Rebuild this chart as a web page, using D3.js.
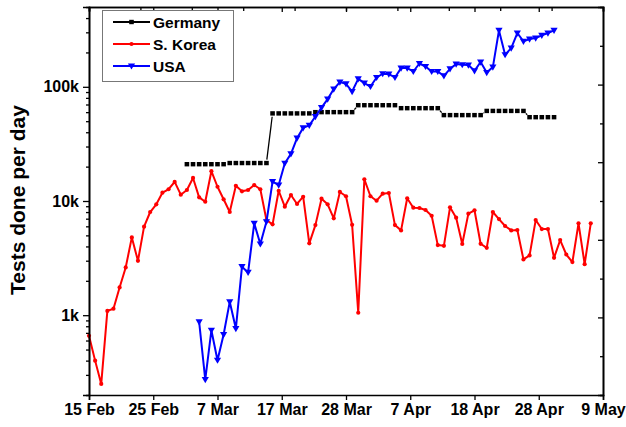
<!DOCTYPE html>
<html>
<head>
<meta charset="utf-8">
<script src="https://cdnjs.cloudflare.com/ajax/libs/d3/7.8.5/d3.min.js"></script>
<style>
  body { margin: 0; background: #fff; }
  svg text { font-family: "Liberation Sans", Arial, sans-serif; font-weight: bold; fill: #000; }
</style>
</head>
<body>
<svg width="626" height="427"></svg>
<script>
// day index 0 = 15 Feb 2020
var xTickValues = [0, 10.5, 21, 31.5, 42, 52.5, 63, 73.5, 84];
var xTickLabels = ["15 Feb", "25 Feb", "7 Mar", "17 Mar", "28 Mar", "7 Apr", "18 Apr", "28 Apr", "9 May"];
var yTickValues = [1000, 10000, 100000];
var yTickLabels = ["1k", "10k", "100k"];
var yMinorValues = [300, 400, 500, 600, 700, 800, 900,
                    2000, 3000, 4000, 5000, 6000, 7000, 8000, 9000,
                    20000, 30000, 40000, 50000, 60000, 70000, 80000, 90000,
                    200000, 300000, 400000];

// S. Korea, days 0..82
var koreaStart = 0;
var koreaValues = [660, 400, 250, 1090, 1140, 1750, 2620, 4800, 2990, 5960,
  8010, 9360, 11830, 12670, 14690, 11360, 12480, 15910, 10760, 9860,
  18240, 13330, 10350, 8010, 13600, 12160, 12480, 13800, 12670, 6810,
  6250, 12300, 8910, 11290, 9420, 10900, 4260, 6150, 10470, 9350,
  7050, 12000, 11000, 6190, 1050, 15500, 11000, 10060, 11600, 11750,
  6150, 5530, 10560, 8740, 8680, 8340, 7430, 4110, 4050, 8810,
  7140, 4200, 7750, 8290, 4220, 3890, 8010, 6950, 6040, 5530,
  5570, 3080, 3340, 6810, 5680, 5680, 3180, 4550, 3400, 2920,
  6370, 2800, 6370];

// USA, days 18..76
var usaStart = 18;
var usaValues = [874, 273, 738, 403, 677, 1309, 764, 2660, 2370, 6370,
  4200, 6580, 14760, 13800, 21400, 25850, 35500, 43700, 46000, 54900,
  65700, 78000, 95500, 110000, 106200, 90900, 117500, 107700, 100600, 120700,
  130100, 129200, 120700, 145900, 145900, 136200, 160000, 150600, 136200, 136200,
  124800, 143800, 158100, 156000, 155000, 138100, 164800, 133300, 148800, 311900,
  190800, 218300, 295800, 249700, 261800, 267300, 281800, 295800, 311900];

// Germany, days 16..76 (weekly figures reported per day)
var germanyStart = 16;
var germanyValues = [21000, 21000, 21000, 21000, 21000, 21000, 21000,
  21500, 21500, 21500, 21500, 21500, 21500, 21500,
  58500, 58500, 58500, 58500, 58500, 58500, 58500,
  60000, 60000, 60000, 60000, 60000, 60000, 60000,
  69000, 69000, 69000, 69000, 69000, 69000, 69000,
  65000, 65000, 65000, 65000, 65000, 65000, 65000,
  56500, 56500, 56500, 56500, 56500, 56500, 56500,
  61500, 61500, 61500, 61500, 61500, 61500, 61500,
  54200, 54200, 54200, 54200, 54200];

var svg = d3.select("svg"),
    frame = {left: 89, right: 603, top: 7, bottom: 395};

var x = d3.scaleLinear().domain([0, 84]).range([frame.left, frame.right]);
var y = d3.scaleLog().domain([200, 500000]).range([frame.bottom, frame.top]);

function toPoints(start, values) {
    return values.map(function(v, i) { return {d: start + i, v: v}; });
}

// gap = space left free around each symbol (line stops short of the marker)
var series = [
    {name: "Germany", color: "#000", width: 1.3, gap: 3.4, data: toPoints(germanyStart, germanyValues), marker: "square"},
    {name: "S. Korea", color: "#ff0000", width: 2, gap: 0, data: toPoints(koreaStart, koreaValues), marker: "dot"},
    {name: "USA", color: "#0000ff", width: 2, gap: 0, data: toPoints(usaStart, usaValues), marker: "tri"}
];

var line = d3.line()
    .x(function(p) { return x(p.d); })
    .y(function(p) { return y(p.v); });

function drawMarker(sel, kind, color) {
    if (kind === "square") {
        sel.append("rect").attr("x", -2.3).attr("y", -2.2).attr("width", 4.6).attr("height", 4.4).attr("fill", color);
    } else if (kind === "dot") {
        sel.append("circle").attr("r", 2.1).attr("fill", color);
    } else {
        sel.append("path").attr("d", "M-3.6,-2.6L3.6,-2.6L0,3.6Z").attr("fill", color);
    }
}

// segments between neighbouring points, cut back by the gap at both ends
function gapSegments(data, gap) {
    var segs = [];
    for (var i = 1; i < data.length; i++) {
        var x0 = x(data[i - 1].d), y0 = y(data[i - 1].v),
            x1 = x(data[i].d), y1 = y(data[i].v),
            len = Math.hypot(x1 - x0, y1 - y0);
        if (len <= 2 * gap + 0.5) continue;
        var ux = (x1 - x0) / len, uy = (y1 - y0) / len;
        segs.push([x0 + ux * gap, y0 + uy * gap, x1 - ux * gap, y1 - uy * gap]);
    }
    return segs;
}

/* --------- series --------- */
var plot = svg.append("g");
series.forEach(function(s) {
    if (s.gap > 0) {
        plot.append("g").selectAll("line")
            .data(gapSegments(s.data, s.gap))
            .enter().append("line")
            .attr("x1", function(t) { return t[0]; })
            .attr("y1", function(t) { return t[1]; })
            .attr("x2", function(t) { return t[2]; })
            .attr("y2", function(t) { return t[3]; })
            .attr("stroke", s.color)
            .attr("stroke-width", s.width);
    } else {
        plot.append("path")
            .datum(s.data)
            .attr("fill", "none")
            .attr("stroke", s.color)
            .attr("stroke-width", s.width)
            .attr("stroke-linejoin", "round")
            .attr("d", line);
    }
    plot.append("g").selectAll("g")
        .data(s.data)
        .enter().append("g")
        .attr("transform", function(p) { return "translate(" + x(p.d) + "," + y(p.v) + ")"; })
        .each(function() { drawMarker(d3.select(this), s.marker, s.color); });
});

/* --------- axes --------- */
function styleAxis(g) {
    g.select(".domain").attr("stroke", "#000").attr("stroke-width", 1.6);
    g.selectAll(".tick line").attr("stroke", "#000").attr("stroke-width", 1.3);
    g.selectAll(".tick text").attr("font-size", 16).attr("font-family", null);
}

svg.append("g")
    .attr("transform", "translate(0," + frame.bottom + ")")
    .call(d3.axisBottom(x).tickValues(xTickValues).tickSize(5).tickPadding(4)
        .tickFormat(function(d, i) { return xTickLabels[i]; }))
    .call(styleAxis);

svg.append("g")
    .attr("transform", "translate(" + frame.left + ",0)")
    .call(d3.axisLeft(y).tickValues(yMinorValues).tickSize(3).tickFormat(""))
    .call(styleAxis);

svg.append("g")
    .attr("transform", "translate(" + frame.left + ",0)")
    .call(d3.axisLeft(y).tickValues(yTickValues).tickSize(6).tickPadding(4)
        .tickFormat(function(d, i) { return yTickLabels[i]; }))
    .call(styleAxis);

// top and right: mirror frame with inward ticks
var xTop = d3.scaleLinear().domain([0, 10]).range([frame.left, frame.right]);
svg.append("g")
    .attr("transform", "translate(0," + frame.top + ")")
    .call(d3.axisTop(xTop).tickValues(d3.range(1, 10)).tickSize(-4).tickFormat(""))
    .call(styleAxis);
svg.append("g")
    .attr("transform", "translate(0," + frame.top + ")")
    .call(d3.axisTop(x).tickValues(xTickValues.slice(1, -1)).tickSize(-5).tickFormat(""))
    .call(styleAxis);

var yRight = d3.scaleLinear().domain([0, 10]).range([frame.bottom, frame.top]);
svg.append("g")
    .attr("transform", "translate(" + frame.right + ",0)")
    .call(d3.axisRight(yRight).tickValues([2, 4, 6, 8]).tickSize(-5).tickFormat(""))
    .call(styleAxis);
svg.append("g")
    .attr("transform", "translate(" + frame.right + ",0)")
    .call(d3.axisRight(yRight).tickValues([1, 3, 5, 7, 9]).tickSize(-3).tickFormat(""))
    .call(styleAxis);

/* --------- y label --------- */
svg.append("text")
    .attr("transform", "translate(25,200) rotate(-90)")
    .attr("text-anchor", "middle")
    .attr("font-size", 21)
    .text("Tests done per day");

/* --------- legend --------- */
var legend = svg.append("g");
legend.append("rect")
    .attr("x", 102.5).attr("y", 10.5)
    .attr("width", 131).attr("height", 71)
    .attr("fill", "#fff").attr("stroke", "#777").attr("stroke-width", 1);

var rows = legend.selectAll("g.row")
    .data(series)
    .enter().append("g")
    .attr("class", "row")
    .attr("transform", function(s, i) { return "translate(0," + (22 + i * 22) + ")"; });

rows.append("line")
    .attr("x1", 113).attr("x2", 150)
    .attr("stroke", function(s) { return s.color; })
    .attr("stroke-width", 2);
rows.each(function(s) {
    var m = d3.select(this).append("g").attr("transform", "translate(131.5,0)");
    drawMarker(m, s.marker, s.color);
});
rows.append("text")
    .attr("x", 153)
    .attr("y", 5.5)
    .attr("font-size", 15.5)
    .text(function(s) { return s.name; });
</script>
</body>
</html>
